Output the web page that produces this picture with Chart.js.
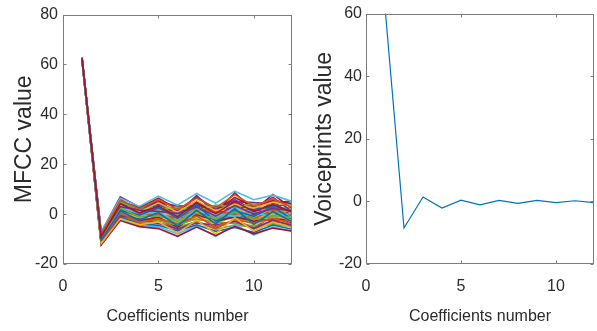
<!DOCTYPE html>
<html>
<head>
<meta charset="utf-8">
<script src="https://cdn.jsdelivr.net/npm/chart.js@4"></script>
<style>
  body { margin: 0; background: #fff; }
  canvas { position: absolute; top: 0; }
  #mfcc { left: 0; }
  #voice { left: 300px; }
</style>
</head>
<body>
<canvas id="mfcc" width="300" height="331"></canvas>
<canvas id="voice" width="297" height="331"></canvas>
<script>
// coefficient index on the x axis
const coeffs = [1, 2, 3, 4, 5, 6, 7, 8, 9, 10, 11, 12];
const xTicks = [0, 5, 10];
const mfccTicks = [-20, 0, 20, 40, 60, 80];
const voiceTicks = [-20, 0, 20, 40, 60];

// MFCC vectors of single frames (left panel)
const mfccFrames = [
  [62.5, -9.2, 4.1, 0.5, 3.2, -1.0, 4.6, 0.2, 5.1, 1.0, 3.9, 0.8],
  [61.8, -10.5, 1.2, -2.4, 0.6, -4.8, 1.5, -3.9, 2.2, -4.1, 1.0, -3.0],
  [62.1, -7.8, 5.6, 2.2, 5.9, 1.8, 6.3, 2.5, 7.8, 3.2, 6.1, 2.7],
  [61.4, -11.8, -1.8, -4.2, -3.1, -7.6, -2.4, -7.9, -1.5, -6.8, -3.2, -5.5],
  [62.7, -8.6, 3.0, 1.6, 1.1, 0.3, 2.9, -0.8, 3.4, 0.1, 2.2, 1.5],
  [61.9, -9.9, 2.4, -1.1, -0.7, -2.6, 0.4, -1.9, 0.9, -2.2, -0.6, -1.4],
  [62.3, -7.1, 6.4, 3.1, 7.2, 3.6, 8.3, 4.4, 9.2, 5.8, 7.6, 5.1],
  [61.6, -12.4, -2.6, -5.0, -5.8, -8.9, -5.2, -8.6, -4.9, -7.9, -5.6, -6.8],
  [62.0, -8.3, 1.8, -0.4, 2.6, -1.7, 3.5, -2.8, 1.4, -0.9, 2.9, -2.0],
  [61.7, -10.9, 0.4, -3.3, -1.9, -3.9, -0.8, -5.1, -2.3, -3.5, -1.7, -3.9],
  [62.4, -9.4, 3.7, 0.9, 4.5, 0.8, 5.4, 1.3, 4.0, 2.4, 4.8, 3.3],
  [61.5, -11.2, -0.6, -2.0, -3.8, -5.9, -3.6, -4.4, -3.0, -5.7, -2.4, -4.6],
  [62.2, -8.0, 4.9, 1.9, 2.0, 2.7, 1.2, 3.6, 2.8, 4.1, 0.5, 2.0],
  [61.8, -9.7, 2.9, -0.2, 0.9, -3.3, 2.0, -0.4, -0.8, 0.6, -1.1, 0.3],
  [62.6, -7.5, 5.1, 2.6, 6.4, 2.0, 5.0, 1.1, 6.7, 2.9, 5.5, 4.2],
  [61.3, -12.0, -1.2, -3.8, -4.5, -6.7, -4.3, -6.9, -5.4, -7.3, -4.4, -6.1],
  [62.0, -8.9, 2.2, 0.1, -0.2, -1.5, 1.9, 0.9, 0.2, -1.8, 1.6, -0.5],
  [61.9, -10.2, 1.0, -1.6, 1.7, -2.1, -1.3, -2.7, 1.9, -1.2, -0.3, -2.6],
  [62.8, -7.3, 6.9, 2.9, 4.2, 1.4, 6.9, 2.1, 5.8, 1.7, 6.8, 1.0],
  [61.6, -11.5, -0.2, -4.6, -2.5, -4.4, -1.9, -3.3, -3.7, -4.8, -3.8, -5.0],
  [62.1, -9.0, 3.4, -0.8, 1.4, -0.5, 3.0, -1.3, 2.5, 0.8, 1.3, -1.1],
  [61.7, -10.7, 1.5, -2.7, -1.2, -5.3, -0.1, -3.0, -1.0, -2.8, -2.0, -2.3],
  [62.4, -8.4, 4.4, 2.0, 3.7, 1.1, 4.1, 3.0, 3.9, 2.0, 3.4, 3.6],
  [61.5, -11.0, -0.9, -3.0, -2.0, -6.2, -2.9, -5.8, -2.1, -6.0, -2.9, -4.2],
  [62.3, -9.6, 2.6, 1.2, 0.2, 0.9, 0.7, 1.8, 1.2, 3.0, 0.1, 1.9],
  [61.8, -8.1, 3.9, 0.4, 5.0, -0.6, 4.4, -1.5, 4.6, -0.4, 5.2, -0.8],
  [62.5, -10.3, 0.7, -1.9, -2.8, -2.9, -1.6, -1.0, -1.9, -2.5, -0.9, 0.4],
  [61.4, -12.2, -2.1, -4.4, -5.1, -7.9, -4.7, -9.0, -4.1, -8.4, -5.1, -7.0],
  [62.0, -7.6, 5.9, 1.3, 5.5, 0.1, 7.4, 0.6, 8.5, 1.5, 7.9, 2.4],
  [61.9, -9.1, 2.0, -1.3, 0.1, -2.4, 0.9, -2.2, -0.3, -1.5, 0.7, -1.6],
  [62.2, -8.8, 3.2, 0.6, 2.3, -0.2, 2.4, 0.4, 3.1, -0.1, 2.6, 0.9],
  [61.6, -10.6, 0.1, -2.3, -1.5, -3.6, -1.1, -4.0, -0.6, -4.4, -1.4, -2.8],
  [62.7, -7.9, 4.7, 2.9, 4.8, 3.2, 3.4, 2.0, 5.0, 4.6, 4.1, 5.4],
  [61.5, -11.6, -1.5, -3.5, -3.5, -5.2, -3.0, -6.1, -4.4, -5.1, -4.2, -4.8],
  [62.1, -9.3, 2.7, -0.6, 1.0, -1.2, 1.1, -0.7, 0.5, 0.4, -0.5, -0.1],
  [61.8, -10.0, 1.6, -1.0, 0.3, -4.1, 2.2, -3.4, 1.1, -3.0, 0.3, -3.4],
  [62.4, -8.2, 3.6, 1.4, 3.9, 0.4, 3.7, 1.6, 4.3, 1.2, 3.0, 1.2],
  [61.7, -10.8, 0.0, -2.8, -1.0, -2.0, -2.2, -2.4, -1.4, -1.9, -2.6, -1.8],
  [62.0, -9.5, 2.3, -1.5, 2.9, -0.9, 0.1, -0.2, 2.0, -0.6, 1.9, 0.0],
  [61.6, -11.3, -0.4, -2.1, -2.4, -4.6, -0.5, -5.4, -2.7, -5.3, -1.0, -3.6],
  [62.3, -8.5, 3.1, 0.8, 1.8, 1.5, 2.6, 0.9, 1.6, 1.9, 2.3, 2.6],
  [61.9, -9.8, 1.9, -0.9, -0.4, -1.9, -0.3, -1.7, 0.3, -1.4, 0.2, -0.7]
];

// averaged voiceprint (right panel)
const voiceprint = [62.0, -8.5, 1.4, -2.1, 0.4, -1.1, 0.3, -0.6, 0.3, -0.4, 0.2, -0.4];

const matlabColors = ['#A2142F', '#0072BD', '#D95319', '#EDB120', '#7E2F8E', '#77AC30', '#4DBEEE'];

const textColor = '#2b2b2b';
const sans = "'Liberation Sans', Arial, sans-serif";

// MATLAB style box with inward tick marks
const boxTicks = {
  id: 'boxTicks',
  afterDatasetsDraw(chart) {
    const { ctx, chartArea: a, scales } = chart;
    const L = Math.round(a.left) + 0.5, R = Math.round(a.right) - 0.5;
    const T = Math.round(a.top) + 0.5, B = Math.round(a.bottom) - 0.5;
    ctx.save();
    ctx.strokeStyle = '#7c7c7c';
    ctx.lineWidth = 1;
    ctx.strokeRect(L, T, R - L, B - T);
    ctx.beginPath();
    scales.x.ticks.forEach((t) => {
      const px = Math.round(scales.x.getPixelForValue(t.value)) + 0.5;
      ctx.moveTo(px, B); ctx.lineTo(px, B - 3);
      ctx.moveTo(px, T); ctx.lineTo(px, T + 3);
    });
    scales.y.ticks.forEach((t) => {
      const py = Math.round(scales.y.getPixelForValue(t.value)) + 0.5;
      ctx.moveTo(L, py); ctx.lineTo(L + 3, py);
      ctx.moveTo(R, py); ctx.lineTo(R - 3, py);
    });
    ctx.stroke();
    ctx.restore();
  }
};

function panelOptions(yTicks, yTitle, yWidth, padRight, yPad, titlePad) {
  return {
    responsive: false,
    animation: false,
    devicePixelRatio: 1,
    layout: { padding: { top: 13, right: padRight, left: 0, bottom: 0 } },
    plugins: { legend: { display: false }, tooltip: { enabled: false } },
    elements: { point: { radius: 0 }, line: { borderWidth: 1, tension: 0 } },
    scales: {
      x: {
        type: 'linear',
        min: 0,
        max: 12,
        grid: { display: false, drawTicks: false },
        border: { display: false },
        afterBuildTicks: (s) => { s.ticks = xTicks.map((v) => ({ value: v })); },
        afterFit: (s) => { s.height = 67; },
        ticks: { padding: 13, maxRotation: 0, color: textColor, font: { family: sans, size: 16 } },
        title: {
          display: true,
          text: 'Coefficients number',
          color: textColor,
          font: { family: sans, size: 16 },
          padding: { top: 0, bottom: 5 }
        }
      },
      y: {
        type: 'linear',
        min: yTicks[0],
        max: yTicks[yTicks.length - 1],
        grid: { display: false, drawTicks: false },
        border: { display: false },
        afterBuildTicks: (s) => { s.ticks = yTicks.map((v) => ({ value: v })); },
        afterFit: (s) => { s.width = yWidth; },
        ticks: { padding: yPad, color: textColor, font: { family: sans, size: 16 } },
        title: {
          display: true,
          text: yTitle,
          color: textColor,
          font: { family: sans, size: 23 },
          padding: { top: titlePad, bottom: 0 }
        }
      }
    }
  };
}

new Chart(document.getElementById('mfcc'), {
  type: 'line',
  data: {
    labels: coeffs,
    datasets: mfccFrames.map((frame, i) => ({
      data: frame.map((v, j) => ({ x: coeffs[j], y: v })),
      borderColor: matlabColors[i % matlabColors.length],
      borderWidth: 1.6,
      clip: 0
    }))
  },
  options: panelOptions(mfccTicks, 'MFCC value', 63, 8, 5, 11),
  plugins: [boxTicks]
});

new Chart(document.getElementById('voice'), {
  type: 'line',
  data: {
    labels: coeffs,
    datasets: [{
      data: voiceprint.map((v, j) => ({ x: coeffs[j], y: v })),
      borderColor: '#0072BD',
      borderWidth: 1.2,
      clip: 0
    }]
  },
  options: panelOptions(voiceTicks, 'Voiceprints value', 66, 3, 4, 11),
  plugins: [boxTicks]
});
</script>
</body>
</html>
